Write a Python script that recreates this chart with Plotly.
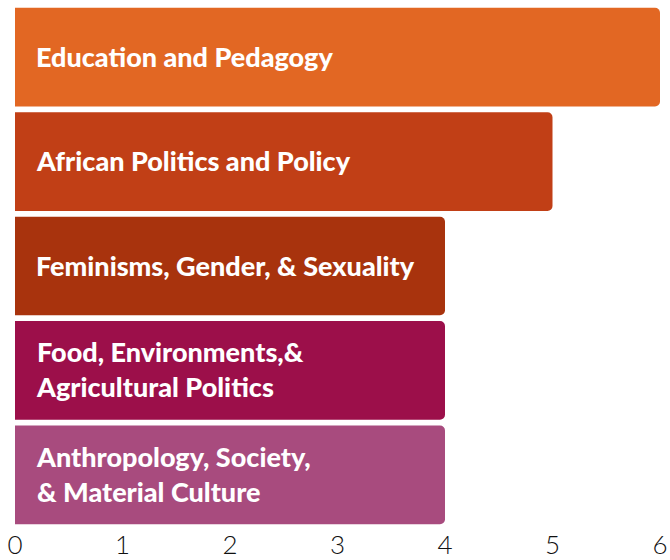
import plotly.graph_objects as go

categories = [
    "Education and Pedagogy",
    "African Politics and Policy",
    "Feminisms, Gender, & Sexuality",
    "Food, Environments,&<br>Agricultural Politics",
    "Anthropology, Society,<br>& Material Culture",
]
values = [6, 5, 4, 4, 4]
colors = ["#E26723", "#C13F16", "#A8330D", "#9C0F4A", "#A84B7E"]
tick_vals = [0, 1, 2, 3, 4, 5, 6]

fig = go.Figure(go.Bar(
    y=categories,
    x=values,
    orientation="h",
    marker=dict(color=colors, line=dict(width=0)),
    hoverinfo="skip",
))

for c, v in zip(categories, values):
    fig.add_annotation(
        x=0, y=c, xref="x", yref="y",
        text=c, showarrow=False, align="left",
        xanchor="left", yanchor="middle", xshift=19, yshift=1,
        font=dict(family="Lato", size=27, color="white", weight=900),
    )

fig.update_layout(
    width=670, height=560,
    margin=dict(l=15, r=10, t=5, b=33, autoexpand=False),
    paper_bgcolor="white", plot_bgcolor="white",
    bargap=0.055,
    barcornerradius=5,
    showlegend=False,
    xaxis=dict(range=[0, 6], tickvals=tick_vals, showgrid=False, zeroline=False,
               showline=False, ticks="", automargin=False,
               tickfont=dict(family="Lato", size=26, color="#111", weight=300)),
    yaxis=dict(autorange="reversed", showticklabels=False, showgrid=False,
               zeroline=False, showline=False, ticks="", automargin=False),
)

fig.write_html(
    "out.html",
    config={"displayModeBar": False},
    post_script="document.body.style.margin='0';document.body.style.overflow='hidden';",
)
